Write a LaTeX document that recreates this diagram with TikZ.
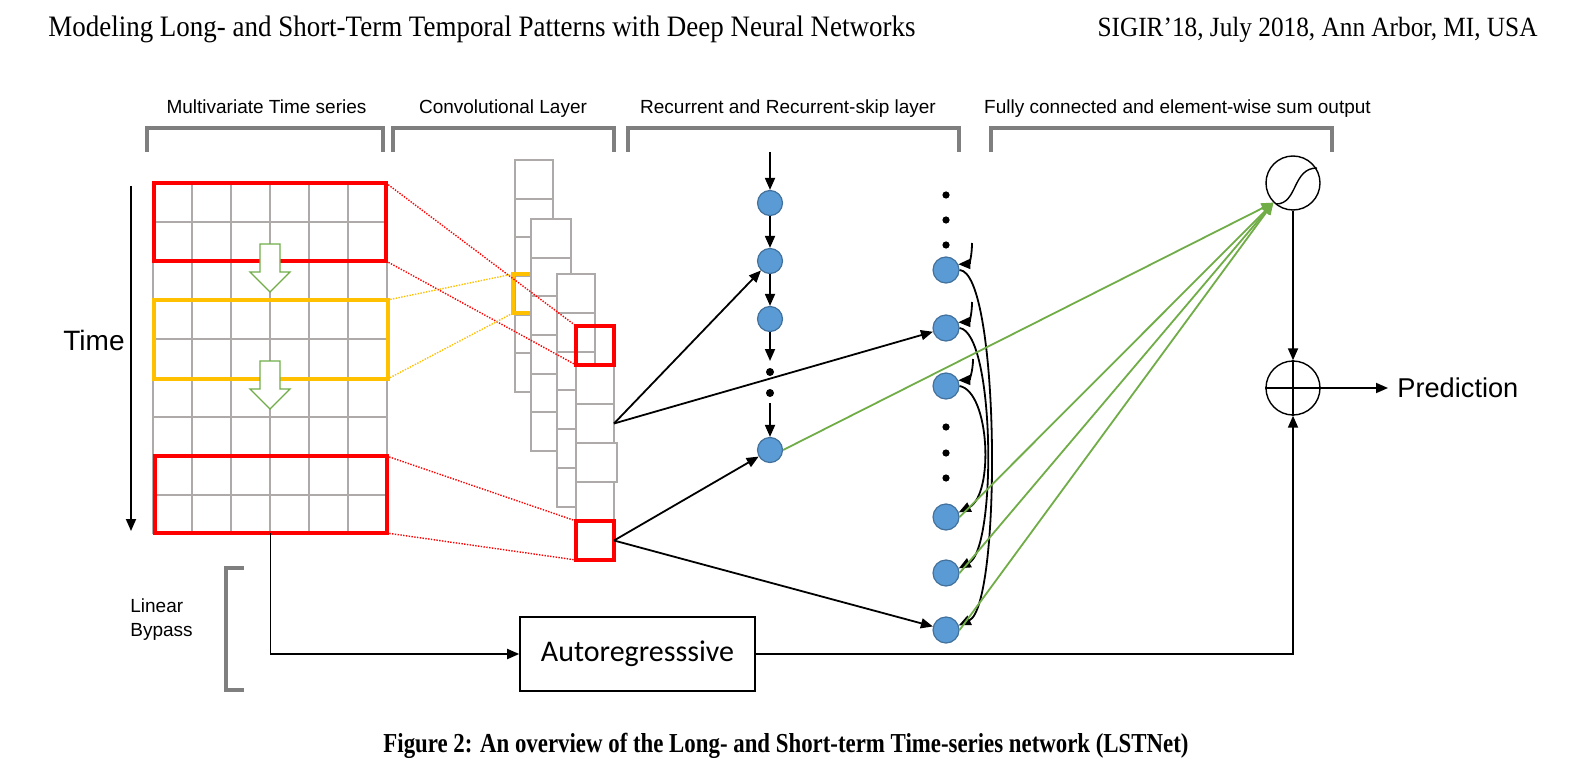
\documentclass[tikz,border=0pt]{standalone}
\usepackage{fontspec}
\setmainfont{Liberation Serif}
\newfontfamily\arial{Liberation Sans}
\newfontfamily\calib{Carlito}
\usepackage{graphicx}
\usetikzlibrary{arrows.meta}
\definecolor{gridgray}{HTML}{AEAAAA}
\definecolor{brgray}{HTML}{7F7F7F}
\definecolor{ored}{HTML}{FF0000}
\definecolor{oyellow}{HTML}{FFC000}
\definecolor{ogreen}{HTML}{70AD47}
\definecolor{nblue}{HTML}{5B9BD5}
\definecolor{nborder}{HTML}{41719C}
\begin{document}
\begin{tikzpicture}[x=0.5pt,y=-0.5pt,
  gl/.style={draw=gridgray, line width=1pt},
  cell/.style={draw=gridgray, fill=white, line width=1pt, minimum width=19pt, minimum height=19.4pt, inner sep=0pt, outer sep=0pt},
  redbox/.style={draw=ored, line width=2pt, inner sep=0pt, outer sep=0pt},
  ybox/.style={draw=oyellow, line width=2pt, inner sep=0pt, outer sep=0pt},
  brk/.style={draw=brgray, line width=2pt},
  neuron/.style={circle, fill=nblue, draw=nborder, line width=0.6pt, minimum size=12.5pt, inner sep=0pt},
  sdot/.style={circle, fill=black, minimum size=4pt, inner sep=0pt},
  arr/.style={draw=black, line width=0.9pt, -{Triangle[length=6pt,width=5pt]}},
  garr/.style={draw=ogreen, line width=0.9pt, -{Triangle[length=6pt,width=5pt]}},
  rdot/.style={draw=ored, line width=0.7pt, dash pattern=on 0.7pt off 0.7pt},
  ydot/.style={draw=oyellow, line width=0.7pt, dash pattern=on 0.7pt off 0.7pt},
  hollow/.style={draw=ogreen, fill=white, line width=0.7pt},
  lab/.style={font=\arial\fontsize{9.5pt}{12pt}\selectfont, inner sep=0pt},
  opcirc/.style={circle, draw=black, line width=0.7pt, minimum size=27pt, inner sep=0pt}
]
\useasboundingbox[fill=white] (0,0) rectangle (1572,770);

% header and caption
\node[anchor=base west, inner sep=0pt] (hl) at (48,37) {\scalebox{1}[1.1]{\resizebox{433.5pt}{!}{Modeling Long- and Short-Term Temporal Patterns with Deep Neural Networks}}};
\node[anchor=base east, inner sep=0pt] (hr) at (1538,37) {\scalebox{1}[1.1]{\resizebox{220pt}{!}{SIGIR'18, July 2018, Ann Arbor, MI, USA}}};
\node[anchor=base, inner sep=0pt] (cap) at (786,752) {\scalebox{1}[1.2]{\resizebox{402.5pt}{!}{\bfseries Figure 2: An overview of the Long- and Short-term Time-series network (LSTNet)}}};

% top labels
\node[lab, anchor=base] (l1) at (266.5,114) {Multivariate Time series};
\node[lab, anchor=base] (l2) at (503,114) {Convolutional Layer};
\node[lab, anchor=base] (l3) at (788,114) {Recurrent and Recurrent-skip layer};
\node[lab, anchor=base] (l4) at (1177.5,114) {Fully connected and element-wise sum output};

% brackets
\draw[brk] (147,152) -- (147,128) -- (383,128) -- (383,152);
\draw[brk] (393,152) -- (393,128) -- (614,128) -- (614,152);
\draw[brk] (628,152) -- (628,128) -- (959,128) -- (959,152);
\draw[brk] (991,152) -- (991,128) -- (1332,128) -- (1332,152);
\draw[brk] (244,568) -- (226,568) -- (226,690) -- (244,690);

% time axis
\coordinate (t0) at (131,186);
\coordinate (t1) at (131,531);
\draw[arr] (t0) -- (t1);
\node[font=\arial\fontsize{14pt}{16pt}\selectfont, inner sep=0pt] (time) at (94,340) {Time};
\node[lab, anchor=west, align=left] (lb) at (130,620) {Linear\\Bypass};

% input grid
\foreach \i in {0,...,6} \draw[gl] (153+39*\i,183) -- (153+39*\i,534);
\foreach \j in {0,...,9} \draw[gl] (153,183+39*\j) -- (387,183+39*\j);
\node[redbox, minimum width=116pt, minimum height=39pt] (rtop) at (270,222) {};
\node[ybox, minimum width=117pt, minimum height=39.5pt] (ybig) at (270.5,339.5) {};
\node[redbox, minimum width=116pt, minimum height=38.5pt] (rbot) at (270.5,494.5) {};
\draw[hollow] (260,244) -- (280,244) -- (280,272) -- (290,272) -- (270,292) -- (250,272) -- (260,272) -- cycle;
\draw[hollow] (260,361) -- (280,361) -- (280,389) -- (290,389) -- (270,409) -- (250,389) -- (260,389) -- cycle;

% convolutional columns
\foreach \k in {0,...,5} \node[cell] at (534,179.35+38.7*\k) {};
\node[ybox, minimum width=19pt, minimum height=19.5pt] (ysm) at (532,293.5) {};
\foreach \k in {0,...,5} \node[cell, minimum width=20pt] at (551,238.35+38.7*\k) {};
\foreach \k in {0,...,5} \node[cell] at (576,293.4+38.8*\k) {};
\node[cell] (c4b) at (595,384.5) {};
\node[cell] (c4mid) at (595,423.5) {};
\node[cell] (c4d) at (595,501.5) {};
\node[cell, minimum width=20.5pt] (c4c) at (596.5,462.5) {};
\node[redbox, minimum width=19pt, minimum height=19.5pt] (c4top) at (595,345.5) {};
\node[redbox, minimum width=19pt, minimum height=19.5pt] (c4bot) at (595,540.5) {};

% dotted projections
\draw[rdot] (rtop.north east) -- (c4top.north west);
\draw[rdot] (rtop.south east) -- (c4top.south west);
\draw[ydot] (ybig.north east) -- (ysm.north west);
\draw[ydot] (ybig.south east) -- (ysm.south west);
\draw[rdot] (rbot.north east) -- (c4bot.north west);
\draw[rdot] (rbot.south east) -- (c4bot.south west);

% recurrent column
\node[neuron] (r1) at (770,203) {};
\node[neuron] (r2) at (770,261) {};
\node[neuron] (r3) at (770,319) {};
\node[neuron] (r4) at (770,450) {};
\node[sdot] (rd1) at (770,372) {};
\node[sdot] (rd2) at (770,393) {};
\coordinate (rin) at (770,152);
\coordinate (rd0) at (770,361);
\coordinate (rd3) at (770,403);
\draw[arr] (rin) -- (r1);
\draw[arr] (r1) -- (r2);
\draw[arr] (r2) -- (r3);
\draw[arr] (r3) -- (rd0);
\draw[arr] (rd3) -- (r4);

% skip column
\node[neuron, minimum size=13pt] (s1) at (946,270) {};
\node[neuron, minimum size=13pt] (s2) at (946,328) {};
\node[neuron, minimum size=13pt] (s3) at (946,386) {};
\node[neuron, minimum size=13pt] (s4) at (946,517) {};
\node[neuron, minimum size=13pt] (s5) at (946,573) {};
\node[neuron, minimum size=13pt] (s6) at (946,630) {};
\foreach \y/\n in {195/a,220/b,245/c,427/d,453/e,478/f} \node[sdot, minimum size=3.6pt] (sd\n) at (946,\y) {};
\coordinate (q1) at (972,243);
\coordinate (q2) at (972,302);
\coordinate (q3) at (973,359);
\draw[arr] (q1) .. controls (972,256) and (969,264) .. (s1.25);
\draw[arr] (q2) .. controls (972,315) and (969,322) .. (s2.25);
\draw[arr] (q3) .. controls (973,372) and (969,380) .. (s3.25);
\draw[arr] (s1.east) .. controls (1000,272) and (1002,605) .. (s6.20);
\draw[arr] (s2.east) .. controls (995,333) and (997,548) .. (s5.20);
\draw[arr] (s3.east) .. controls (990,392) and (994,495) .. (s4.20);

% conv -> recurrent
\draw[arr] (c4mid.east) -- (r2);
\draw[arr] (c4mid.east) -- (s2);
\draw[arr] (c4bot.east) -- (r4);
\draw[arr] (c4bot.east) -- (s6);

% output part
\node[opcirc] (sig) at (1293,183) {};
\draw[line width=0.7pt] (1276,204) .. controls (1298,204) and (1292,168) .. (1317,168);
\node[opcirc] (sum) at (1293,388) {};
\draw[line width=0.7pt] (sum.north) -- (sum.south);
\draw[line width=0.7pt] (sum.west) -- (sum.east);

\draw[garr] (r4.east) -- (sig.225);
\draw[garr] (s4.east) -- (sig.225);
\draw[garr] (s5.east) -- (sig.225);
\draw[garr] (s6.east) -- (sig.225);

\node[font=\arial\fontsize{13.6pt}{16pt}\selectfont, anchor=west, inner sep=0pt, inner xsep=4.5pt] (pred) at (1388,388) {Prediction};
\draw[arr] (sig) -- (sum);
\draw[arr] (sum.east) -- (pred.west);

\node[draw=black, line width=0.8pt, minimum width=117.5pt, minimum height=37pt, inner sep=0pt, font=\calib\fontsize{15pt}{18pt}\selectfont] (ar) at (637.5,654) {Autoregresssive};
\draw[arr] (rbot.south) |- (ar.west);
\draw[arr] (ar.east) -| (sum.south);
\end{tikzpicture}
\end{document}
